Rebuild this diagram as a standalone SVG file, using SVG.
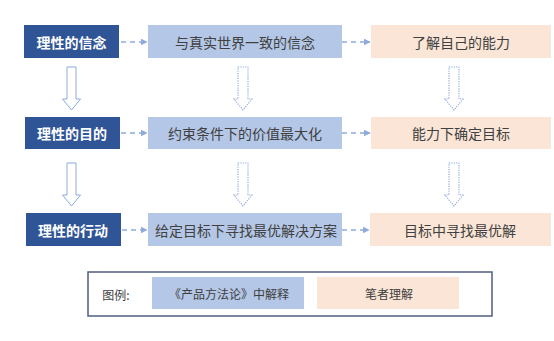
<svg xmlns="http://www.w3.org/2000/svg" width="554" height="341" viewBox="0 0 554 341">
<defs>
<style>
.t{font-family:"Noto Sans CJK SC","Noto Sans",sans-serif;font-size:14px;text-anchor:middle;dominant-baseline:central}
.dark{fill:#2F5597}
.dark-t{fill:#FFFFFF;font-weight:bold}
.mid{fill:#B4C7E7}
.peach{fill:#FBE5D6}
.gt{fill:#404040}
.dash{stroke:#8FAADC;stroke-width:1.5;stroke-dasharray:5 4;fill:none}
.blk{fill:#FFFFFF;stroke:#8FAADC;stroke-width:1}
.dot{fill:#FFFFFF;stroke:#8FAADC;stroke-width:1.2;stroke-dasharray:1.2 1.2}
.lg{font-size:12px}
</style>
<marker id="ah" viewBox="0 0 10 10" refX="9" refY="5" markerWidth="7" markerHeight="7" markerUnits="userSpaceOnUse" orient="auto">
<path d="M0,0 L10,5 L0,10 z" fill="#8FAADC"/>
</marker>
</defs>
<rect width="554" height="341" fill="#FFFFFF"/>
<g id="connectors">
<path class="dash" d="M121,42 H147" marker-end="url(#ah)"/>
<path class="dash" d="M342,42 H370" marker-end="url(#ah)"/>
<path class="dash" d="M121,133 H147" marker-end="url(#ah)"/>
<path class="dash" d="M342,133 H370" marker-end="url(#ah)"/>
<path class="dash" d="M122,230 H147" marker-end="url(#ah)"/>
<path class="dash" d="M342,230 H369" marker-end="url(#ah)"/>
<path class="blk" d="M67,67 H76 V99 H80.5 L71.5,110 L62.5,99 H67 Z"/>
<path class="blk" d="M67,163 H76 V195 H80.5 L71.5,206 L62.5,195 H67 Z"/>
<path class="dot" d="M238,67 H248 V99 H252 L243,110 L234,99 H238 Z"/>
<path class="dot" d="M238,163 H248 V195 H252 L243,206 L234,195 H238 Z"/>
<path class="dot" d="M449,67 H459 V99 H463 L454,110 L445,99 H449 Z"/>
<path class="dot" d="M449,163 H459 V195 H463 L454,206 L445,195 H449 Z"/>
</g>
<g id="n1"><rect class="dark" x="24" y="25" width="95" height="33"/><text class="t dark-t" x="71.5" y="42">理性的信念</text></g>
<g id="n2"><rect class="mid" x="148" y="25" width="194" height="33"/><text class="t gt" x="245" y="42">与真实世界一致的信念</text></g>
<g id="n3"><rect class="peach" x="371" y="25" width="180" height="33"/><text class="t gt" x="461" y="42">了解自己的能力</text></g>
<g id="n4"><rect class="dark" x="25" y="117" width="95" height="32"/><text class="t dark-t" x="72" y="133">理性的目的</text></g>
<g id="n5"><rect class="mid" x="148" y="117" width="194" height="32"/><text class="t gt" x="245" y="133">约束条件下的价值最大化</text></g>
<g id="n6"><rect class="peach" x="371" y="117" width="180" height="32"/><text class="t gt" x="461" y="133">能力下确定目标</text></g>
<g id="n7"><rect class="dark" x="26" y="213" width="95" height="33"/><text class="t dark-t" x="73" y="230">理性的行动</text></g>
<g id="n8"><rect class="mid" x="148" y="213" width="194" height="33"/><text class="t gt" x="246" y="230">给定目标下寻找最优解决方案</text></g>
<g id="n9"><rect class="peach" x="370" y="213" width="181" height="33"/><text class="t gt" x="460" y="230">目标中寻找最优解</text></g>
<g id="legend">
<rect x="88" y="272" width="404" height="44" fill="#FFFFFF" stroke="#4F5F7F" stroke-width="1.5"/>
<text class="t gt lg" x="116" y="294">图例:</text>
<rect class="mid" x="152" y="277" width="152" height="32"/>
<text class="t gt lg" x="229" y="293">《产品方法论》中解释</text>
<rect class="peach" x="317" y="277" width="142" height="32"/>
<text class="t gt lg" x="389" y="293">笔者理解</text>
</g>
</svg>
